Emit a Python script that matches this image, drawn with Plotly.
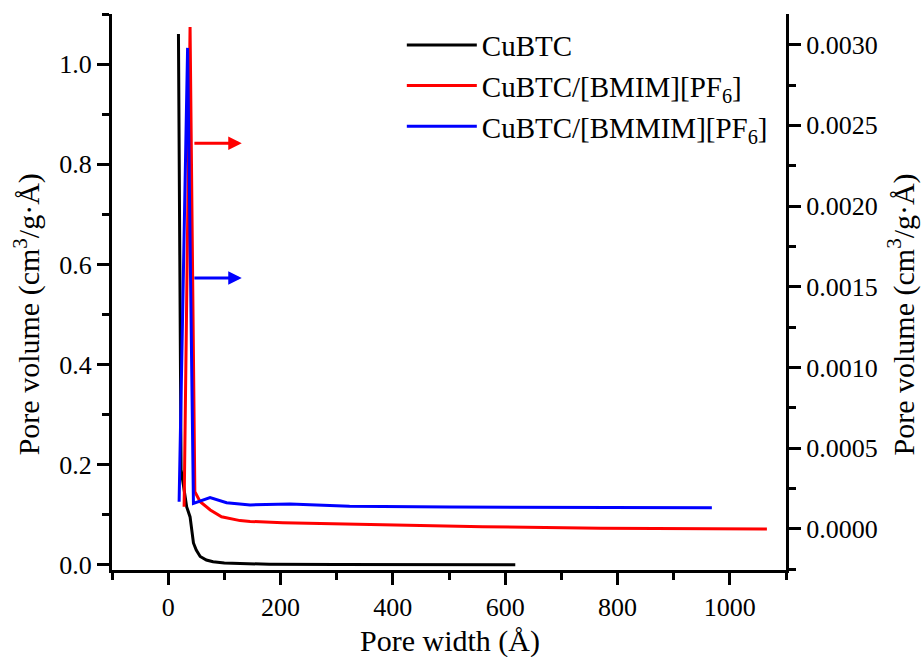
import plotly.graph_objects as go

# ---- data ----
cubtc_x = [18.3, 23, 33, 39, 45, 50, 57, 68, 80, 100, 128, 180, 300, 450, 618]
cubtc_y = [1.06, 0.19, 0.116, 0.096, 0.044, 0.03, 0.017, 0.01, 0.0066, 0.004, 0.003, 0.0015, 0.0008, 0.0005, 0.0003]

bmim_x = [28.4, 39, 47.5, 57, 75, 95, 128, 146, 204, 300, 382, 560, 770, 1066]
bmim_y = [0.000138, 0.00311, 0.000231, 0.000169, 0.000118, 0.000076, 0.000052, 0.000047,
          0.000039, 0.000034, 0.000026, 0.000014, 0.000004, 0.0]

bmmim_x = [19.5, 34.6, 45, 74.6, 104, 128, 146, 217, 323, 501, 769, 968]
bmmim_y = [0.000169, 0.00298, 0.000159, 0.000194, 0.000163, 0.000153, 0.000149, 0.000155,
           0.000141, 0.000136, 0.000134, 0.000132]

names = ["CuBTC", "CuBTC/[BMIM][PF<sub>6</sub>]", "CuBTC/[BMMIM][PF<sub>6</sub>]"]
colors = ["#000000", "#ff0000", "#0000ff"]

x_ticks = [0, 200, 400, 600, 800, 1000]
y_ticks = [0.0, 0.2, 0.4, 0.6, 0.8, 1.0]
y2_ticks = [0.0, 0.0005, 0.0010, 0.0015, 0.0020, 0.0025, 0.0030]

FONT = "Liberation Serif, Times New Roman, serif"

fig = go.Figure()
fig.add_trace(go.Scatter(x=cubtc_x, y=cubtc_y, mode="lines", name=names[0],
                         line=dict(color=colors[0], width=3), yaxis="y"))
fig.add_trace(go.Scatter(x=bmim_x, y=bmim_y, mode="lines", name=names[1],
                         line=dict(color=colors[1], width=3), yaxis="y2"))
fig.add_trace(go.Scatter(x=bmmim_x, y=bmmim_y, mode="lines", name=names[2],
                         line=dict(color=colors[2], width=3), yaxis="y2"))

axis_common = dict(showline=True, linecolor="black", linewidth=3, showgrid=False,
                   zeroline=False, ticks="outside", ticklen=12, tickwidth=2.5,
                   tickcolor="black", tickfont=dict(family=FONT, size=26, color="black"))

fig.update_layout(
    width=922, height=657,
    margin=dict(l=112, r=136, t=14, b=87),
    paper_bgcolor="white", plot_bgcolor="white",
    font=dict(family=FONT, color="black"),
    xaxis=dict(range=[-100, 1100], tickvals=x_ticks,
               minor=dict(dtick=100, tick0=-100, ticks="outside", ticklen=7, tickwidth=2.5, tickcolor="black"),
               **axis_common),
    yaxis=dict(range=[-0.01, 1.1], tickvals=y_ticks, tickformat=".1f",
               minor=dict(dtick=0.1, tick0=0, ticks="outside", ticklen=7, tickwidth=2.5, tickcolor="black"),
               **axis_common),
    yaxis2=dict(range=[-0.000254, 0.00319], tickvals=y2_ticks, tickformat=".4f",
                overlaying="y", side="right", anchor="x",
                minor=dict(dtick=0.00025, tick0=0, ticks="outside", ticklen=7, tickwidth=2.5, tickcolor="black"),
                **axis_common),
    legend=dict(x=0.43, y=0.99, xanchor="left", yanchor="top",
                font=dict(family=FONT, size=29, color="black"),
                bgcolor="rgba(0,0,0,0)", itemwidth=70, tracegroupgap=0),
    showlegend=True,
)

# axis titles
fig.add_annotation(text="Pore width (Å)", xref="paper", yref="paper", x=0.502, y=-0.128,
                   showarrow=False, font=dict(family=FONT, size=30, color="black"),
                   xanchor="center", yanchor="middle")
fig.add_annotation(text="Pore volume (cm<sup>3</sup>/g·Å)", xref="paper", yref="paper",
                   x=-0.126, y=0.46, textangle=-90, showarrow=False,
                   font=dict(family=FONT, size=30, color="black"),
                   xanchor="center", yanchor="middle")
fig.add_annotation(text="Pore volume (cm<sup>3</sup>/g·Å)", xref="paper", yref="paper",
                   x=1.171, y=0.46, textangle=-90, showarrow=False,
                   font=dict(family=FONT, size=30, color="black"),
                   xanchor="center", yanchor="middle")

# arrows pointing to the right axis
for yv, col in [(0.842, colors[1]), (0.573, colors[2])]:
    fig.add_annotation(x=131, y=yv, ax=44, ay=yv, xref="x", yref="y", axref="x", ayref="y",
                       text="", showarrow=True, arrowhead=2, arrowsize=0.9,
                       arrowwidth=3, arrowcolor=col, standoff=0)

fig.write_html("out.html")
